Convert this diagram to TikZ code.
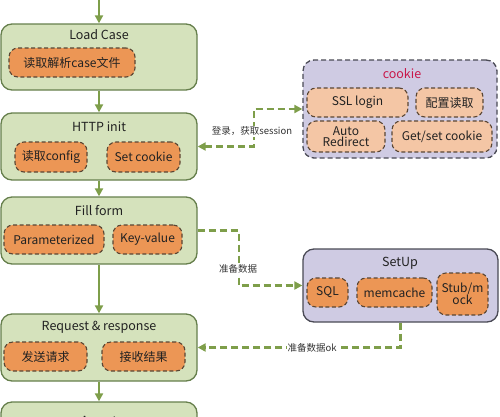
\documentclass[tikz,border=0pt]{standalone}
\usepackage{fontspec}
\setmainfont{Noto Sans CJK SC}
\usetikzlibrary{arrows.meta}
\definecolor{gfill}{HTML}{D5E2BC}
\definecolor{gdraw}{HTML}{667F4C}
\definecolor{arrowc}{HTML}{7E9E4A}
\definecolor{ofill}{HTML}{EC9655}
\definecolor{pfill}{HTML}{F4C6A5}
\definecolor{odraw}{HTML}{5A4634}
\definecolor{lfill}{HTML}{CFCBE3}
\definecolor{ldraw}{HTML}{4A4A55}
\definecolor{cookiered}{HTML}{C8184A}
\definecolor{txt}{HTML}{222222}
\tikzset{
  stagebox/.style={draw=gdraw, fill=gfill, line width=1.3pt, rounded corners=11pt, inner sep=0pt},
  groupbox/.style={draw=ldraw, fill=lfill, line width=1.3pt, dash pattern=on 5pt off 3pt, rounded corners=11pt, inner sep=0pt},
  taskbox/.style={draw=odraw, fill=ofill, line width=1.1pt, dash pattern=on 4pt off 2.5pt, rounded corners=9pt, inner sep=0pt, align=center, text=txt, font=\fontsize{12}{13.5}\selectfont},
  peachbox/.style={taskbox, fill=pfill},
  titletext/.style={font=\fontsize{12.5}{14}\selectfont, inner sep=0pt, text=txt},
  flow/.style={draw=arrowc, line width=2pt, -{Triangle[length=8pt,width=8pt]}},
  dflow/.style={draw=arrowc, line width=2.2pt, dash pattern=on 7pt off 4pt, -{Triangle[length=8pt,width=8pt]}},
  elabel/.style={fill=white, inner sep=1pt, font=\fontsize{9.5}{11}\selectfont, text=black!80}
}
\begin{document}
\begin{tikzpicture}[x=1pt,y=-1pt]
\useasboundingbox (0,0) rectangle (500,416);
\clip (0,0) rectangle (500,416);
% stages
\node[stagebox, minimum width=196pt, minimum height=66pt] (lc) at (99,57) {};
\node[titletext] (lct) at (99,35) {Load Case};
\node[taskbox, minimum width=126pt, minimum height=29pt] (lc1) at (72,62.5) {读取解析case文件};

\node[stagebox, minimum width=196pt, minimum height=67pt] (hi) at (99,146.5) {};
\node[titletext] (hit) at (99,127) {HTTP init};
\node[taskbox, minimum width=72pt, minimum height=30pt] (hi1) at (51,157) {读取config};
\node[taskbox, minimum width=73pt, minimum height=30pt] (hi2) at (143.5,157) {Set cookie};

\node[stagebox, minimum width=196pt, minimum height=67pt] (ff) at (99,230.5) {};
\node[titletext] (fft) at (99,211) {Fill form};
\node[taskbox, minimum width=100pt, minimum height=29pt] (ff1) at (54,239.5) {Parameterized};
\node[taskbox, minimum width=69pt, minimum height=29pt] (ff2) at (147.5,239.5) {Key-value};

\node[stagebox, minimum width=196pt, minimum height=67pt] (rr) at (99,347.5) {};
\node[titletext] (rrt) at (99,327) {Request \& response};
\node[taskbox, minimum width=83pt, minimum height=29pt] (rr1) at (45.5,356.5) {发送请求};
\node[taskbox, minimum width=83pt, minimum height=29pt] (rr2) at (143.5,356.5) {接收结果};

\node[stagebox, minimum width=196pt, minimum height=60pt] (as) at (99,432) {};
\node[titletext] (ast) at (99,420.5) {Assert};

% cookie group
\node[groupbox, minimum width=194pt, minimum height=98pt] (ck) at (400,109) {};
\node[titletext, text=cookiered] (ckt) at (402,74) {cookie};
\node[peachbox, minimum width=101pt, minimum height=29pt] (ck1) at (357.5,102.5) {SSL login};
\node[peachbox, minimum width=67pt, minimum height=29pt] (ck2) at (449.5,102.5) {配置读取};
\node[peachbox, minimum width=78pt, minimum height=31pt] (ck3) at (346,136.5) {Auto\\[-2pt]Redirect};
\node[peachbox, minimum width=100pt, minimum height=31pt] (ck4) at (442,136.5) {Get/set cookie};

% setup group
\node[groupbox, solid, minimum width=195pt, minimum height=73pt] (su) at (400.5,285.5) {};
\node[titletext] (sut) at (400,263) {SetUp};
\node[taskbox, minimum width=41pt, minimum height=29pt] (su1) at (327.5,292.5) {SQL};
\node[taskbox, minimum width=75pt, minimum height=29pt] (su2) at (394.5,292.5) {memcache};
\node[taskbox, minimum width=51pt, minimum height=42pt] (su3) at (462.5,294) {Stub/m\\[-2pt]ock};

% main flow
\coordinate (start) at (99,-2);
\draw[flow] (start) -- (lc.north);
\draw[flow] (lc.south) -- (hi.north);
\draw[flow] (hi.south) -- (ff.north);
\draw[flow] (ff.south) -- (rr.north);
\draw[flow] (rr.south) -- (as.north);

% side flows
\draw[dflow, {Triangle[length=8pt,width=8pt]}-{Triangle[length=8pt,width=8pt]}] (hi.east) -- ++(56,0) |- (ck.west);
\node[elabel] (l1) at (252,131) {登录，获取session};

\draw[dflow] (ff.east) -- ++(41,0) |- (su.west);
\node[elabel] (l2) at (238,269) {准备数据};

\draw[dflow] (su.south) |- (rr.east);
\node[elabel] (l3) at (312,347.5) {准备数据ok};
\end{tikzpicture}
\end{document}
